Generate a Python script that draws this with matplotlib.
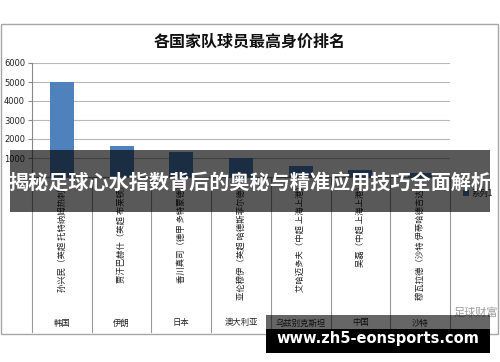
import matplotlib
matplotlib.use("Agg")
import matplotlib.pyplot as plt
from matplotlib.patches import Rectangle
from matplotlib.lines import Line2D
from matplotlib.transforms import blended_transform_factory

plt.rcParams['font.family'] = ['Noto Sans CJK SC', 'DejaVu Sans']

title = "各国家队球员最高身价排名"
countries = ["韩国", "伊朗", "日本", "澳大利亚", "乌兹别克斯坦", "中国", "沙特"]
players = ["孙兴民（英超 托特纳姆热刺）", "贾汗巴赫什（英超 布莱顿）", "香川真司（德甲 多特蒙德）",
           "亚伦穆伊（英超 哈德斯菲尔德）", "艾哈迈多夫（中超 上海上港）", "吴磊（中超 上海上港）",
           "穆瓦拉德（沙特 伊蒂哈德吉达）"]
values = [5000, 1650, 1300, 1000, 600, 350, 200]
yticks = [0, 1000, 2000, 3000, 4000, 5000, 6000]
legend_label = "系列1"
overlay_text = "揭秘足球心水指数背后的奥秘与精准应用技巧全面解析"
url_text = "www.zh5-eonsports.com"
watermark = "足球财富"

W, H = 500, 362
fig = plt.figure(figsize=(W / 100, H / 100), dpi=100)
fig.patch.set_facecolor("white")

def fx(px):
    return px / W

def fy(py):
    return 1 - py / H

# chart frame
fig.add_artist(Rectangle((fx(0.5), fy(334)), fx(497), fy(24) - fy(334), transform=fig.transFigure,
                         facecolor="white", edgecolor="#a6a6a6", lw=1.0, zorder=0))

ax = fig.add_axes([fx(32), fy(177), fx(450) - fx(32), fy(63) - fy(177)])
ax.set_facecolor("none")
x = list(range(len(countries)))
ax.bar(x, values, width=0.4, color="#4F81BD", zorder=3)
ax.set_xlim(-0.5, len(countries) - 0.5)
ax.set_ylim(0, 6000)
ax.set_yticks(yticks)
ax.set_yticklabels([str(v) for v in yticks], fontsize=6, color="#222222", family="DejaVu Sans")
ax.set_xticks([])
ax.grid(axis="y", color="#b8b8b8", lw=0.8, zorder=0)
for s in ["top", "right"]:
    ax.spines[s].set_visible(False)
ax.spines["left"].set_color("#888888")
ax.spines["bottom"].set_color("#888888")
ax.tick_params(axis="y", length=3, color="#888888", pad=2)

fig.text(0.5, fy(42), title, ha="center", va="center", fontsize=11.5, fontweight="bold", color="#111111")

tr = blended_transform_factory(ax.transData, fig.transFigure)
for i in range(len(countries) + 1):
    fig.add_artist(Line2D([i - 0.5, i - 0.5], [fy(177), fy(332)], transform=tr, color="#999999", lw=0.8))
for i, (c, p) in enumerate(zip(countries, players)):
    fig.text(i, fy(181), p, transform=tr, rotation=90, ha="center", va="top", fontsize=6, color="#222222")
    fig.text(i, fy(323), c, transform=tr, ha="center", va="center", fontsize=6, color="#222222")

# legend
fig.add_artist(Rectangle((fx(463), fy(196)), fx(6), fy(190) - fy(196), transform=fig.transFigure,
                         facecolor="#4F81BD", edgecolor="none"))
fig.text(fx(471), fy(193), legend_label, ha="left", va="center", fontsize=6, color="#222222")

# watermark
fig.text(fx(476), fy(313), watermark, ha="center", va="center", fontsize=8, color="#a0a0a0")

# overlay band
fig.add_artist(Rectangle((fx(10), fy(212)), fx(480), fy(150) - fy(212), transform=fig.transFigure,
                         facecolor="black", alpha=0.65, edgecolor="none", zorder=10))
fig.text(0.5, fy(182), overlay_text, ha="center", va="center", fontsize=14.5, fontweight="bold",
         color="white", zorder=11)

# bottom band
fig.add_artist(Rectangle((fx(266), fy(329)), fx(224), fy(315) - fy(329), transform=fig.transFigure,
                         facecolor="black", alpha=0.6, edgecolor="none", zorder=10))
fig.add_artist(Rectangle((fx(266), fy(353)), fx(224), fy(329) - fy(353), transform=fig.transFigure,
                         facecolor="black", edgecolor="none", zorder=10))
fig.text(fx(378), fy(338), url_text, ha="center", va="center", fontsize=10.5, fontweight="bold",
         color="white", family="DejaVu Sans", zorder=11)

fig.savefig("out.png", dpi=100)
